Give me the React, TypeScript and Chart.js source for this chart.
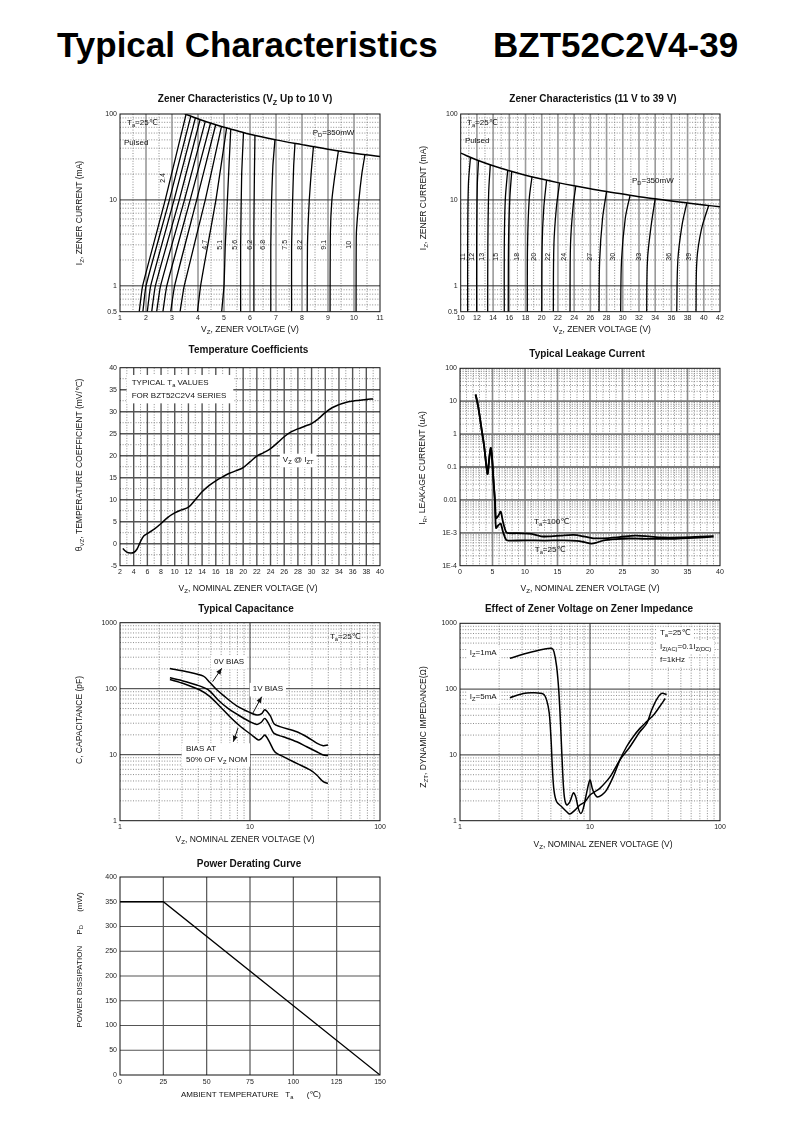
import React, { useEffect, useRef } from 'react';
import { Chart, registerables } from 'chart.js';

Chart.register(...registerables);

type Pt = [number, number];
type Align = 'left' | 'center' | 'right';

const FAMILY = '"Liberation Sans", Arial, "DejaVu Sans", sans-serif';

// ================= DATA =================
// --- Zener characteristics, Vz up to 10 V (V, mA)
const ZL_X_TICKS = [1, 2, 3, 4, 5, 6, 7, 8, 9, 10, 11];
const ZL_Y_TICKS = [0.5, 1, 10, 100];
const ZL_Y_LABELS = ['0.5', '1', '10', '100'];
const ZL_CURVES: Pt[][] = [
  [[1.74, 0.5], [1.87, 1], [2.74, 10], [3.54, 99]],
  [[1.88, 0.5], [2.0, 1], [2.9, 10], [3.72, 94]],
  [[2.05, 0.5], [2.18, 1], [3.08, 10], [3.9, 90]],
  [[2.22, 0.5], [2.36, 1], [3.28, 10], [4.08, 86]],
  [[2.41, 0.5], [2.56, 1], [3.48, 10], [4.28, 82]],
  [[2.65, 0.5], [2.8, 1], [3.7, 10], [4.48, 78]],
  [[2.95, 0.5], [3.1, 1], [3.95, 10], [4.68, 75]],
  [[3.31, 0.5], [3.47, 1], [4.28, 10], [4.9, 71]],
  [[3.98, 0.5], [4.1, 1], [4.35, 2.7], [4.69, 10], [5.1, 69]],
  [[4.91, 0.5], [5.0, 1], [5.05, 3], [5.13, 10], [5.26, 67]],
  [[5.64, 0.5], [5.64, 3], [5.68, 20], [5.75, 61]],
  [[6.15, 0.5], [6.15, 5], [6.17, 20], [6.19, 57]],
  [[6.8, 0.5], [6.8, 3], [6.83, 10], [6.88, 25], [6.96, 50]],
  [[7.6, 0.5], [7.6, 3], [7.64, 10], [7.68, 25], [7.73, 45.5]],
  [[8.2, 0.5], [8.21, 3], [8.28, 10], [8.36, 22], [8.44, 41.5]],
  [[9.08, 0.5], [9.09, 4], [9.15, 10], [9.27, 20], [9.4, 37.3]],
  [[10.08, 0.5], [10.09, 4], [10.19, 10], [10.3, 20], [10.42, 33.6]],
];
const ZL_PD: Pt[] = [[3.5, 100], [4, 88], [4.5, 78], [5, 70], [5.5, 64], [6, 58], [7, 50], [8, 44], [9, 39], [10, 35], [11, 32]];
const ZL_CURVE_LABELS: [string, number, number][] = [
  ['2.4', 2.65, 18], ['4.7', 4.27, 3], ['5.1', 4.85, 3], ['5.6', 5.42, 3], ['6.2', 6.0, 3],
  ['6.8', 6.5, 3], ['7.5', 7.35, 3], ['8.2', 7.92, 3], ['9.1', 8.85, 3], ['10', 9.81, 3],
];

// --- Zener characteristics, 11 V to 39 V (V, mA)
const ZH_X_TICKS = [10, 12, 14, 16, 18, 20, 22, 24, 26, 28, 30, 32, 34, 36, 38, 40, 42];
const ZH_CURVES: Pt[][] = [
  [[10.86, 0.5], [10.86, 3], [10.95, 15], [11.2, 31]],
  [[11.97, 0.5], [11.97, 3], [12.05, 15], [12.2, 28.7]],
  [[13.33, 0.5], [13.35, 3], [13.45, 12], [13.65, 25.6]],
  [[15.38, 0.5], [15.38, 3], [15.5, 10], [15.8, 22.2]],
  [[15.87, 0.5], [15.9, 3], [16.05, 10], [16.3, 21.5]],
  [[18.22, 0.5], [18.25, 3], [18.45, 10], [18.8, 18.6]],
  [[20.0, 0.5], [20.05, 3], [20.25, 8], [20.6, 17]],
  [[21.43, 0.5], [21.5, 3], [21.8, 8], [22.2, 15.8]],
  [[23.49, 0.5], [23.55, 3], [23.85, 8], [24.2, 14.5]],
  [[27.07, 0.5], [27.15, 2], [27.5, 6], [28.0, 12.5]],
  [[29.74, 0.5], [29.85, 2], [30.3, 6], [30.9, 11.3]],
  [[32.95, 0.5], [33.05, 2], [33.5, 5], [34.0, 10.3]],
  [[36.66, 0.5], [36.8, 2], [37.3, 5], [37.9, 9.2]],
  [[39.04, 0.5], [39.15, 2], [39.7, 4.5], [40.6, 8.6]],
];
const ZH_PD: Pt[] = [[10, 35], [12, 29.2], [14, 25], [16, 21.9], [18, 19.4], [20, 17.5], [22, 15.9], [24, 14.6], [26, 13.5], [28, 12.5], [30, 11.7], [32, 10.9], [34, 10.3], [36, 9.7], [38, 9.2], [40, 8.75], [42, 8.3]];
const ZH_CURVE_LABELS: [string, number][] = [
  ['11', 10.32], ['12', 11.35], ['13', 12.59], ['15', 14.32], ['18', 16.99], ['20', 19.05], ['22', 20.81],
  ['24', 22.75], ['27', 25.96], ['30', 28.75], ['33', 32.0], ['36', 35.7], ['39', 38.2],
];

// --- Temperature coefficients (V, mV/°C)
const TC_X_TICKS = [2, 4, 6, 8, 10, 12, 14, 16, 18, 20, 22, 24, 26, 28, 30, 32, 34, 36, 38, 40];
const TC_Y_TICKS = [-5, 0, 5, 10, 15, 20, 25, 30, 35, 40];
const TC_VZ = [2.4, 3.0, 3.5, 4.0, 4.5, 5.0, 5.5, 6, 7, 8, 9, 10, 11, 12, 13, 14, 15, 16, 17, 18, 19, 20, 21, 22, 23, 24, 25, 26, 27, 28, 29, 30, 31, 32, 33, 34, 35, 36, 37, 38, 39];
const TC_COEF = [-1.1, -1.9, -2.1, -2.0, -1.2, 0.5, 1.8, 2.3, 3.3, 4.6, 6.0, 7.0, 7.7, 8.3, 10, 11.8, 13.2, 14.3, 15.2, 16, 16.6, 17.3, 18.6, 19.9, 20.7, 21.6, 22.9, 24.3, 25.4, 26.1, 26.7, 27.3, 28.4, 29.8, 30.9, 31.6, 32.1, 32.4, 32.6, 32.8, 32.9];

// --- Typical leakage current (V, uA)
const LK_X_TICKS = [0, 5, 10, 15, 20, 25, 30, 35, 40];
const LK_Y_TICKS = [1e-4, 1e-3, 0.01, 0.1, 1, 10, 100];
const LK_Y_LABELS = ['1E-4', '1E-3', '0.01', '0.1', '1', '10', '100'];
const LK_START: Pt[] = [[2.4, 16], [2.8, 6.8], [3.3, 1.5], [3.7, 0.45], [4.1, 0.09], [4.25, 0.062], [4.5, 0.18], [4.72, 0.38], [4.92, 0.2], [5.13, 0.045], [5.38, 0.009]];
const LK_100C: Pt[] = [[5.54, 0.0028], [5.9, 0.0033], [6.26, 0.0044], [6.6, 0.0022], [7.08, 0.00107], [7.44, 0.00098], [9, 0.00097], [11, 0.00093], [12.5, 0.00078], [14, 0.00078], [15.5, 0.00082], [17.5, 0.00086], [19, 0.00078], [20.5, 0.00068], [22, 0.00068], [24.5, 0.00074], [27, 0.00082], [29, 0.00078], [31, 0.00072], [34, 0.00072], [37, 0.00076], [39, 0.00079]];
const LK_25C: Pt[] = [[5.54, 0.0014], [5.9, 0.0017], [6.26, 0.0019], [6.6, 0.0011], [7.08, 0.00062], [7.44, 0.00058], [10, 0.00059], [13, 0.00058], [16, 0.00059], [18, 0.00057], [19.3, 0.00051], [20.2, 0.00047], [21, 0.0005], [22, 0.00058], [24, 0.00064], [26, 0.00067], [28, 0.00066], [30, 0.00065], [33, 0.00066], [36, 0.0007], [39, 0.00076]];

// --- Typical capacitance (V, pF)
const LOG_X_TICKS = [1, 10, 100];
const LOG_Y_TICKS = [1, 10, 100, 1000];
const CAP_0V: Pt[] = [[2.42, 203], [3.26, 181], [4.38, 155], [4.9, 125], [5.5, 98], [6.2, 80], [7.9, 55], [10, 43.5], [11.3, 40], [12.3, 42], [13, 48], [14.3, 39], [15.3, 29.5], [17, 26.6], [22.9, 22.3], [27.3, 18.7], [32.6, 15], [36.6, 13.7], [39.8, 14]];
const CAP_1V: Pt[] = [[2.42, 147], [2.89, 135], [3.89, 114], [4.78, 96], [5.71, 67], [6.81, 50], [8.37, 38.6], [10, 31.6], [11.3, 28.8], [12.2, 31], [13, 35.5], [14.1, 28.1], [15.3, 21], [18, 18.7], [22.9, 15.7], [27.3, 13.2], [32.6, 11.1], [36.6, 9.9], [39.8, 9.7]];
const CAP_HALF: Pt[] = [[2.42, 138], [3.07, 120], [4.12, 95.5], [4.92, 75.7], [5.9, 53.3], [7.0, 37.6], [8.37, 27.2], [10.3, 19.9], [11.6, 16.7], [12.3, 17.8], [13, 19.9], [14.1, 15.7], [15.5, 11.1], [18, 9.33], [22.9, 7.4], [29, 5.87], [32.6, 4.92], [36.6, 3.9], [39.8, 3.68]];

// --- Zener impedance (V, ohm)
const IMP_1MA: Pt[] = [[2.42, 294], [3.26, 350], [4.38, 403], [5.07, 417], [5.28, 371], [5.54, 219], [5.77, 86], [5.98, 21], [6.17, 5.2], [6.35, 2.3], [6.62, 1.73], [7.0, 1.94], [7.45, 2.66], [7.77, 2.3], [8.13, 1.54], [8.5, 1.29], [8.88, 1.54], [9.4, 2.6], [10, 4.15], [10.5, 2.92], [11.3, 2.31], [12.3, 2.45], [13.4, 2.92], [15.1, 4.67], [17, 8.4], [19.1, 13.3], [21.5, 18.9], [24.2, 25.3], [27.3, 32], [30.7, 40], [34.3, 54], [37.9, 72]];
const IMP_5MA: Pt[] = [[2.42, 74], [3.07, 86], [3.67, 88], [4.38, 84], [4.64, 68], [4.86, 43], [5.02, 16.8], [5.13, 6.6], [5.28, 2.92], [5.54, 1.94], [6.06, 1.63], [6.62, 1.37], [7.0, 1.26], [7.66, 1.45], [8.37, 1.73], [9.15, 1.94], [10, 2.45], [10.9, 2.76], [11.9, 3.1], [14.3, 4.67], [17, 8.4], [20.3, 13.3], [24.2, 22.5], [27.3, 30], [29.8, 48], [32.6, 70], [35.6, 86], [38.9, 83]];

// --- Power derating (°C, mW)
const PWR_X_TICKS = [0, 25, 50, 75, 100, 125, 150];
const PWR_Y_TICKS = [0, 50, 100, 150, 200, 250, 300, 350, 400];
const PWR_TEMP = [0, 25, 150];
const PWR_MW = [350, 350, 0];

// ================= HELPERS =================
const seq = (a: number, b: number, step: number) => {
  const r: number[] = [];
  for (let v = a; v <= b + 1e-9; v += step) r.push(+v.toFixed(6));
  return r;
};
const logMinor = (d0: number, d1: number) => {
  const r: number[] = [];
  for (let d = d0; d < d1; d++) for (let k = 2; k <= 9; k++) r.push(k * Math.pow(10, d));
  return r;
};
const str = (a: number[]) => a.map(String);

interface Ann { x: number; y: number; text: string; size?: number; align?: Align; rot?: boolean; bg?: boolean; }
interface TextAt { text: string; x: number; y: number; size?: number; }
interface Series { pts: Pt[]; width: number; tension: number; }
interface Spec {
  box: [number, number, number, number];
  area: [number, number, number, number];
  xType: 'linear' | 'logarithmic';
  yType: 'linear' | 'logarithmic';
  xRange: [number, number];
  yRange: [number, number];
  xTicks: number[]; xLabels: string[];
  yTicks: number[]; yLabels: string[];
  xMajor: number[]; xMinor: number[]; yMajor: number[]; yMinor: number[];
  vStyle: [string, number]; hStyle: [string, number];
  series: Series[];
  title: TextAt; xTitle: TextAt; yTitle: TextAt;
  anns: Ann[];
  rects?: [number, number, number, number][];
  arrows?: [number, number, number, number][];
}

function parseRich(s: string) {
  const out: { t: string; sub: boolean }[] = [];
  const re = /_\{([^}]*)\}/g;
  let last = 0;
  let m: RegExpExecArray | null;
  while ((m = re.exec(s))) {
    if (m.index > last) out.push({ t: s.slice(last, m.index), sub: false });
    out.push({ t: m[1], sub: true });
    last = re.lastIndex;
  }
  if (last < s.length) out.push({ t: s.slice(last), sub: false });
  return out;
}

function drawRich(
  ctx: CanvasRenderingContext2D, text: string, x: number, y: number, size: number,
  o: { bold?: boolean; align?: Align; rot?: boolean; mode?: 'bg' | 'text' } = {}
) {
  const parts = parseRich(text);
  const font = (sub: boolean) => `${o.bold ? 'bold ' : ''}${sub ? size * 0.72 : size}px ${FAMILY}`;
  let w = 0;
  const widths = parts.map((p) => {
    ctx.font = font(p.sub);
    const mw = ctx.measureText(p.t).width;
    w += mw;
    return mw;
  });
  ctx.save();
  ctx.translate(x, y);
  if (o.rot) ctx.rotate(-Math.PI / 2);
  const align = o.align || 'center';
  let cx = align === 'left' ? 0 : align === 'center' ? -w / 2 : -w;
  if (o.mode === 'bg') {
    ctx.fillStyle = '#fff';
    ctx.fillRect(cx - 3, -size * 0.8, w + 6, size * 1.7);
  } else {
    ctx.fillStyle = '#111';
    ctx.textBaseline = 'middle';
    ctx.textAlign = 'left';
    parts.forEach((p, i) => {
      ctx.font = font(p.sub);
      ctx.fillText(p.t, cx, p.sub ? size * 0.32 : 0);
      cx += widths[i];
    });
  }
  ctx.restore();
}

function sheetPlugin(s: Spec) {
  return {
    id: 'sheet',
    beforeDatasetsDraw(chart: any) {
      const { ctx, chartArea: a } = chart;
      const xs = chart.scales.x;
      const ys = chart.scales.y;
      ctx.save();
      ctx.beginPath();
      ctx.rect(a.left, a.top, a.right - a.left, a.bottom - a.top);
      ctx.clip();
      // minor dotted grid
      ctx.setLineDash([1, 1.6]);
      ctx.lineWidth = 1;
      ctx.strokeStyle = '#8c8c8c';
      ctx.beginPath();
      s.xMinor.forEach((v) => { const p = xs.getPixelForValue(v); ctx.moveTo(p, a.top); ctx.lineTo(p, a.bottom); });
      s.yMinor.forEach((v) => { const p = ys.getPixelForValue(v); ctx.moveTo(a.left, p); ctx.lineTo(a.right, p); });
      ctx.stroke();
      ctx.setLineDash([]);
      // major solid grid
      ctx.strokeStyle = s.vStyle[0];
      ctx.lineWidth = s.vStyle[1];
      ctx.beginPath();
      s.xMajor.forEach((v) => { const p = xs.getPixelForValue(v); ctx.moveTo(p, a.top); ctx.lineTo(p, a.bottom); });
      ctx.stroke();
      ctx.strokeStyle = s.hStyle[0];
      ctx.lineWidth = s.hStyle[1];
      ctx.beginPath();
      s.yMajor.forEach((v) => { const p = ys.getPixelForValue(v); ctx.moveTo(a.left, p); ctx.lineTo(a.right, p); });
      ctx.stroke();
      // white boxes behind labels
      ctx.fillStyle = '#fff';
      (s.rects || []).forEach(([x0, y0, x1, y1]) => {
        const px0 = xs.getPixelForValue(x0), px1 = xs.getPixelForValue(x1);
        const py0 = ys.getPixelForValue(y0), py1 = ys.getPixelForValue(y1);
        ctx.fillRect(Math.min(px0, px1), Math.min(py0, py1), Math.abs(px1 - px0), Math.abs(py1 - py0));
      });
      s.anns.forEach((an) => {
        if (!an.bg) return;
        drawRich(ctx, an.text, xs.getPixelForValue(an.x), ys.getPixelForValue(an.y), an.size || 8, { align: an.align || 'left', rot: an.rot, mode: 'bg' });
      });
      ctx.restore();
    },
    afterDatasetsDraw(chart: any) {
      const { ctx, chartArea: a } = chart;
      const xs = chart.scales.x;
      const ys = chart.scales.y;
      ctx.save();
      ctx.strokeStyle = '#111';
      ctx.lineWidth = 1;
      ctx.strokeRect(a.left, a.top, a.right - a.left, a.bottom - a.top);
      // arrows
      (s.arrows || []).forEach(([x0, y0, x1, y1]) => {
        const p0x = xs.getPixelForValue(x0), p0y = ys.getPixelForValue(y0);
        const p1x = xs.getPixelForValue(x1), p1y = ys.getPixelForValue(y1);
        const ang = Math.atan2(p1y - p0y, p1x - p0x);
        ctx.strokeStyle = '#111';
        ctx.lineWidth = 1;
        ctx.beginPath();
        ctx.moveTo(p0x, p0y);
        ctx.lineTo(p1x, p1y);
        ctx.stroke();
        ctx.fillStyle = '#111';
        ctx.beginPath();
        ctx.moveTo(p1x, p1y);
        ctx.lineTo(p1x - 6 * Math.cos(ang) + 2.5 * Math.sin(ang), p1y - 6 * Math.sin(ang) - 2.5 * Math.cos(ang));
        ctx.lineTo(p1x - 6 * Math.cos(ang) - 2.5 * Math.sin(ang), p1y - 6 * Math.sin(ang) + 2.5 * Math.cos(ang));
        ctx.closePath();
        ctx.fill();
      });
      s.anns.forEach((an) => {
        drawRich(ctx, an.text, xs.getPixelForValue(an.x), ys.getPixelForValue(an.y), an.size || 8, { align: an.align || 'left', rot: an.rot, mode: 'text' });
      });
      ctx.restore();
    },
    afterDraw(chart: any) {
      const { ctx } = chart;
      const [bl, bt] = s.box;
      drawRich(ctx, s.title.text, s.title.x - bl, s.title.y - bt, s.title.size || 10, { bold: true, align: 'center' });
      drawRich(ctx, s.xTitle.text, s.xTitle.x - bl, s.xTitle.y - bt, s.xTitle.size || 8.5, { align: 'center' });
      drawRich(ctx, s.yTitle.text, s.yTitle.x - bl, s.yTitle.y - bt, s.yTitle.size || 8.5, { align: 'center', rot: true });
    },
  };
}

function makeConfig(s: Spec): any {
  const [bl, bt, bw, bh] = s.box;
  const [al, at, ar, ab] = s.area;
  const yW = al - bl;
  const xH = bt + bh - ab;
  const padT = at - bt;
  const padR = bl + bw - ar;
  const axis = (type: string, range: [number, number], ticks: number[], labels: string[], isX: boolean) => ({
    type,
    min: range[0],
    max: range[1],
    grid: { display: false, drawTicks: false },
    border: { display: false },
    ticks: {
      font: { family: FAMILY, size: 7 },
      color: '#222',
      padding: isX ? 2.5 : 3,
      autoSkip: false,
      maxRotation: 0,
      minRotation: 0,
      callback: (_v: any, i: number) => labels[i],
    },
    afterBuildTicks: (sc: any) => { sc.ticks = ticks.map((v) => ({ value: v })); },
    afterFit: (sc: any) => { if (isX) sc.height = xH; else sc.width = yW; },
  });
  return {
    type: 'scatter',
    data: {
      datasets: s.series.map((d) => ({
        data: d.pts.map(([x, y]) => ({ x, y })),
        showLine: true,
        borderColor: '#000',
        backgroundColor: '#000',
        borderWidth: d.width,
        pointRadius: 0,
        pointHoverRadius: 0,
        tension: d.tension,
        fill: false,
      })),
    },
    options: {
      responsive: false,
      animation: false,
      events: [],
      layout: { padding: { top: padT, right: padR, left: 0, bottom: 0 } },
      plugins: { legend: { display: false }, tooltip: { enabled: false }, title: { display: false } },
      scales: {
        x: axis(s.xType, s.xRange, s.xTicks, s.xLabels, true),
        y: axis(s.yType, s.yRange, s.yTicks, s.yLabels, false),
      },
    },
    plugins: [sheetPlugin(s)],
  };
}

// ================= SPECS =================
const ZENER_Y_MINOR = [0.6, 0.7, 0.8, 0.9, ...logMinor(0, 2)];

const SPEC_ZL: Spec = {
  box: [60, 86, 335, 256], area: [120, 114, 380, 311.7],
  xType: 'linear', yType: 'logarithmic', xRange: [1, 11], yRange: [0.5, 100],
  xTicks: ZL_X_TICKS, xLabels: str(ZL_X_TICKS), yTicks: ZL_Y_TICKS, yLabels: ZL_Y_LABELS,
  xMajor: seq(2, 10, 1), xMinor: seq(1.5, 10.5, 1), yMajor: [1, 10], yMinor: ZENER_Y_MINOR,
  vStyle: ['#9a9a9a', 1.6], hStyle: ['#333', 1],
  series: [...ZL_CURVES.map((pts) => ({ pts, width: 1.3, tension: 0.15 })), { pts: ZL_PD, width: 1.5, tension: 0.4 }],
  title: { text: 'Zener Characteristics (V_{Z} Up to 10 V)', x: 245, y: 99.5 },
  xTitle: { text: 'V_{Z}, ZENER VOLTAGE (V)', x: 250, y: 329.5 },
  yTitle: { text: 'I_{Z}, ZENER CURRENT (mA)', x: 80, y: 213 },
  anns: [
    { x: 1.27, y: 79, text: 'T_{a}=25℃' },
    { x: 1.15, y: 46.4, text: 'Pulsed' },
    { x: 8.41, y: 60.5, text: 'P_{D}=350mW' },
    ...ZL_CURVE_LABELS.map(([t, x, y]) => ({ x, y, text: t, size: 7, rot: true, align: 'center' as Align })),
  ],
};

const SPEC_ZH: Spec = {
  box: [400, 86, 335, 256], area: [460.7, 114, 720, 311.7],
  xType: 'linear', yType: 'logarithmic', xRange: [10, 42], yRange: [0.5, 100],
  xTicks: ZH_X_TICKS, xLabels: str(ZH_X_TICKS), yTicks: ZL_Y_TICKS, yLabels: ZL_Y_LABELS,
  xMajor: seq(12, 40, 2), xMinor: seq(11, 41, 2), yMajor: [1, 10], yMinor: ZENER_Y_MINOR,
  vStyle: ['#9a9a9a', 1.6], hStyle: ['#333', 1],
  series: [...ZH_CURVES.map((pts) => ({ pts, width: 1.3, tension: 0.35 })), { pts: ZH_PD, width: 1.5, tension: 0.4 }],
  title: { text: 'Zener Characteristics (11 V to 39 V)', x: 593, y: 99.5 },
  xTitle: { text: 'V_{Z}, ZENER VOLTAGE (V)', x: 602, y: 330 },
  yTitle: { text: 'I_{Z}, ZENER CURRENT (mA)', x: 424, y: 198 },
  anns: [
    { x: 10.78, y: 78, text: 'T_{a}=25℃' },
    { x: 10.53, y: 48.9, text: 'Pulsed' },
    { x: 31.14, y: 16.7, text: 'P_{D}=350mW' },
    ...ZH_CURVE_LABELS.map(([t, x]) => ({ x, y: 2.18, text: t, size: 7, rot: true, align: 'center' as Align })),
  ],
};

const SPEC_TC: Spec = {
  box: [60, 340, 335, 258], area: [120, 367.7, 380, 565.7],
  xType: 'linear', yType: 'linear', xRange: [2, 40], yRange: [-5, 40],
  xTicks: TC_X_TICKS, xLabels: str(TC_X_TICKS), yTicks: TC_Y_TICKS, yLabels: str(TC_Y_TICKS),
  xMajor: seq(4, 38, 2), xMinor: seq(3, 39, 2), yMajor: seq(0, 35, 5), yMinor: seq(-2.5, 37.5, 5),
  vStyle: ['#555', 1.4], hStyle: ['#555', 1.4],
  series: [{ pts: TC_VZ.map((v, i) => [v, TC_COEF[i]] as Pt), width: 1.5, tension: 0.4 }],
  title: { text: 'Temperature Coefficients', x: 248.5, y: 350.3 },
  xTitle: { text: 'V_{Z}, NOMINAL ZENER VOLTAGE (V)', x: 248, y: 588.3 },
  yTitle: { text: 'θ_{VZ}, TEMPERATURE COEFFICIENT (mV/℃)', x: 80, y: 465 },
  rects: [[2.98, 31.9, 18.56, 38.34]],
  anns: [
    { x: 3.71, y: 36.6, text: 'TYPICAL T_{a} VALUES' },
    { x: 3.71, y: 33.6, text: 'FOR BZT52C2V4 SERIES' },
    { x: 25.8, y: 19.0, text: 'V_{Z} @ I_{ZT}', bg: true },
  ],
};

const SPEC_LK: Spec = {
  box: [400, 342, 335, 256], area: [460, 368.3, 720, 565.7],
  xType: 'linear', yType: 'logarithmic', xRange: [0, 40], yRange: [1e-4, 100],
  xTicks: LK_X_TICKS, xLabels: str(LK_X_TICKS), yTicks: LK_Y_TICKS, yLabels: LK_Y_LABELS,
  xMajor: seq(5, 35, 5), xMinor: seq(1, 39, 1).filter((v) => v % 5 !== 0), yMajor: [1e-3, 0.01, 0.1, 1, 10], yMinor: logMinor(-4, 2),
  vStyle: ['#8a8a8a', 1.6], hStyle: ['#7a7a7a', 1.8],
  series: [
    { pts: [...LK_START, ...LK_100C], width: 1.8, tension: 0.3 },
    { pts: [...LK_START, ...LK_25C], width: 1.8, tension: 0.3 },
  ],
  title: { text: 'Typical Leakage Current', x: 587, y: 354 },
  xTitle: { text: 'V_{Z}, NOMINAL ZENER VOLTAGE (V)', x: 590, y: 588.3 },
  yTitle: { text: 'I_{R}, LEAKAGE CURRENT (uA)', x: 423, y: 468 },
  anns: [
    { x: 11.4, y: 2.17e-3, text: 'T_{a}=100℃' },
    { x: 11.5, y: 3.0e-4, text: 'T_{a}=25℃' },
  ],
};

const SPEC_CAP: Spec = {
  box: [60, 598, 335, 254], area: [120, 622.7, 380, 820.7],
  xType: 'logarithmic', yType: 'logarithmic', xRange: [1, 100], yRange: [1, 1000],
  xTicks: LOG_X_TICKS, xLabels: str(LOG_X_TICKS), yTicks: LOG_Y_TICKS, yLabels: str(LOG_Y_TICKS),
  xMajor: [10], xMinor: logMinor(0, 2), yMajor: [10, 100], yMinor: logMinor(0, 3),
  vStyle: ['#333', 1], hStyle: ['#333', 1],
  series: [
    { pts: CAP_0V, width: 1.5, tension: 0.3 },
    { pts: CAP_1V, width: 1.5, tension: 0.3 },
    { pts: CAP_HALF, width: 1.5, tension: 0.3 },
  ],
  title: { text: 'Typical Capacitance', x: 246, y: 609.3 },
  xTitle: { text: 'V_{Z}, NOMINAL ZENER VOLTAGE (V)', x: 245, y: 840 },
  yTitle: { text: 'C, CAPACITANCE (pF)', x: 80, y: 720 },
  rects: [[2.98, 6.58, 10, 14.9]],
  arrows: [[5.16, 128, 6.06, 204], [10.5, 42.4, 12.3, 75.6], [8.09, 25.4, 7.44, 15.7]],
  anns: [
    { x: 41.2, y: 601, text: 'T_{a}=25℃' },
    { x: 5.28, y: 254, text: '0V BIAS', bg: true },
    { x: 10.5, y: 98, text: '1V BIAS', bg: true },
    { x: 3.22, y: 12.2, text: 'BIAS AT' },
    { x: 3.22, y: 8.3, text: '50% OF V_{Z} NOM' },
  ],
};

const SPEC_IMP: Spec = {
  box: [400, 598, 335, 254], area: [460, 623.3, 720, 820.7],
  xType: 'logarithmic', yType: 'logarithmic', xRange: [1, 100], yRange: [1, 1000],
  xTicks: LOG_X_TICKS, xLabels: str(LOG_X_TICKS), yTicks: LOG_Y_TICKS, yLabels: str(LOG_Y_TICKS),
  xMajor: [10], xMinor: logMinor(0, 2), yMajor: [10, 100], yMinor: logMinor(0, 3),
  vStyle: ['#333', 1], hStyle: ['#333', 1],
  series: [
    { pts: IMP_1MA, width: 1.5, tension: 0.3 },
    { pts: IMP_5MA, width: 1.5, tension: 0.3 },
  ],
  title: { text: 'Effect of Zener Voltage on Zener Impedance', x: 589, y: 609 },
  xTitle: { text: 'V_{Z}, NOMINAL ZENER VOLTAGE (V)', x: 603, y: 845 },
  yTitle: { text: 'Z_{ZT}, DYNAMIC IMPEDANCE(Ω)', x: 424, y: 727 },
  anns: [
    { x: 1.19, y: 357, text: 'I_{Z}=1mA', bg: true },
    { x: 1.19, y: 76.6, text: 'I_{Z}=5mA', bg: true },
    { x: 34.5, y: 705, text: 'T_{a}=25℃', bg: true },
    { x: 34.5, y: 441, text: 'I_{Z(AC)}=0.1I_{Z(DC)}', bg: true },
    { x: 34.5, y: 277, text: 'f=1kHz', bg: true },
  ],
};

const SPEC_PWR: Spec = {
  box: [60, 852, 335, 254], area: [120, 877, 380, 1075],
  xType: 'linear', yType: 'linear', xRange: [0, 150], yRange: [0, 400],
  xTicks: PWR_X_TICKS, xLabels: str(PWR_X_TICKS), yTicks: PWR_Y_TICKS, yLabels: str(PWR_Y_TICKS),
  xMajor: seq(25, 125, 25), xMinor: [], yMajor: seq(50, 350, 50), yMinor: [],
  vStyle: ['#555', 1.2], hStyle: ['#555', 1.2],
  series: [{ pts: PWR_TEMP.map((t, i) => [t, PWR_MW[i]] as Pt), width: 1.3, tension: 0 }],
  title: { text: 'Power Derating Curve', x: 249, y: 864.3 },
  xTitle: { text: 'AMBIENT TEMPERATURE   T_{a}      (℃)', x: 251, y: 1095, size: 8 },
  yTitle: { text: 'POWER DISSIPATION     P_{D}      (mW)', x: 79.3, y: 960, size: 8 },
  anns: [],
};

const SPECS: Spec[] = [SPEC_ZL, SPEC_ZH, SPEC_TC, SPEC_LK, SPEC_CAP, SPEC_IMP, SPEC_PWR];

function SheetChart({ spec }: { spec: Spec }) {
  const ref = useRef<HTMLCanvasElement>(null);
  useEffect(() => {
    if (!ref.current) return;
    const chart = new Chart(ref.current, makeConfig(spec));
    return () => chart.destroy();
  }, [spec]);
  const [l, t, w, h] = spec.box;
  return (
    <canvas
      ref={ref}
      width={w}
      height={h}
      style={{ position: 'absolute', left: l, top: t, width: w, height: h }}
    />
  );
}

const headStyle: React.CSSProperties = {
  position: 'absolute',
  top: 27,
  font: `bold 35px ${FAMILY}`,
  lineHeight: '35px',
  whiteSpace: 'nowrap',
  color: '#000',
};

export default function App() {
  return (
    <div style={{ position: 'absolute', left: 0, top: 0, width: 800, height: 1132, background: '#fff', overflow: 'hidden' }}>
      <div style={{ ...headStyle, left: 57 }}>Typical Characteristics</div>
      <div style={{ ...headStyle, left: 493 }}>BZT52C2V4-39</div>
      {SPECS.map((s, i) => (
        <SheetChart key={i} spec={s} />
      ))}
    </div>
  );
}
